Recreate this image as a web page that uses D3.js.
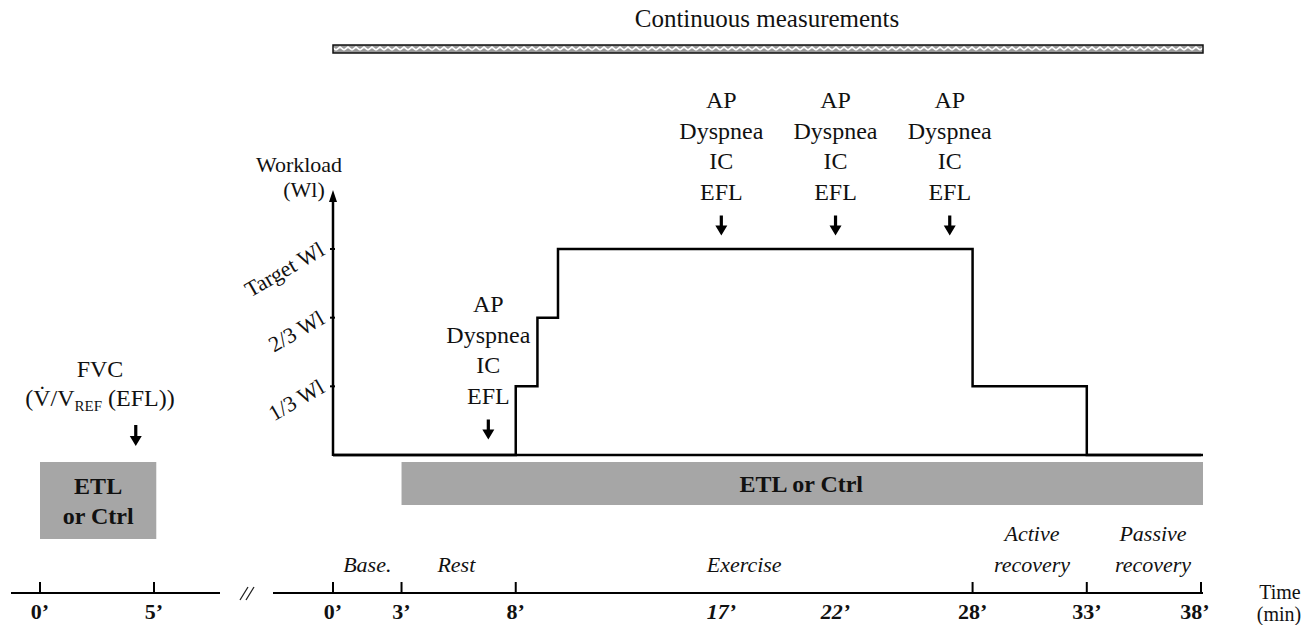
<!DOCTYPE html>
<html><head><meta charset="utf-8">
<script src="https://cdn.jsdelivr.net/npm/d3@7"></script>
<style>html,body{margin:0;padding:0;background:#fff}svg{display:block}</style>
</head><body>
<svg id="c" width="1304" height="625" font-family="'Liberation Serif', Tinos, 'DejaVu Serif', serif"></svg>
<script>
// ---- data ----
const mainTicks = [0, 3, 8, 17, 22, 28, 33, 38];
const mainTickLabels = ["0’", "3’", "8’", "17’", "22’", "28’", "33’", "38’"];
const italicTickLabels = ["17’", "22’"];
const tickMarks = [0, 3, 8, 28, 33, 38];
const preTicks = [0, 5];
const preTickLabels = ["0’", "5’"];
const stepTimes = [0, 8, 8.95, 9.85, 28, 33, 38];
const stepLevels = [0, 1, 2, 3, 1, 0, 0];
const levelTicks = [1, 2, 3];
const levelLabels = ["1/3 Wl", "2/3 Wl", "Target Wl"];
const measureTimes = [6.8, 17, 22, 27];
const measureLabels = ["AP", "Dyspnea", "IC", "EFL"];
const phases = [
  {lines: ["Base."], t: 1.5},
  {lines: ["Rest"], t: 5.4},
  {lines: ["Exercise"], t: 18},
  {lines: ["Active", "recovery"], t: 30.6},
  {lines: ["Passive", "recovery"], t: 35.9}
];
const etlMain = [3, 38];
const etlPre = [0, 5.1];
const fvcTime = 4.2;
const contRange = [0, 38];

// ---- scales ----
const svg = d3.select("#c");
const x = d3.scaleLinear().domain([0, 38]).range([333, 1201]);
const xp = d3.scaleLinear().domain([0, 5]).range([40, 154]);
const y = d3.scaleLinear().domain([0, 3]).range([455, 249]);
const axisY = 593;
const ink = "#111";

const defs = svg.append("defs");
const pat = defs.append("pattern").attr("id", "zz").attr("patternUnits", "userSpaceOnUse")
  .attr("width", 8).attr("height", 7).attr("x", 0).attr("y", 45);
pat.append("rect").attr("width", 8).attr("height", 7).attr("fill", "#9a9a9a");
pat.append("path").attr("d", "M0,5 L4,2 L8,5").attr("stroke", "#fff").attr("stroke-width", 1.6).attr("fill", "none");

function txt(xx, yy, s, size, opts) {
  opts = opts || {};
  return svg.append("text").attr("x", xx).attr("y", yy).attr("text-anchor", opts.anchor || "middle")
    .attr("font-size", size).attr("font-weight", opts.bold ? "bold" : "normal")
    .attr("font-style", opts.italic ? "italic" : "normal").attr("fill", ink).text(s);
}

// continuous measurements
txt(767, 27, "Continuous measurements", 25);
svg.append("rect").attr("x", x(contRange[0])).attr("y", 45).attr("width", x(contRange[1]) - x(contRange[0]) + 2).attr("height", 8)
  .attr("fill", "url(#zz)").attr("stroke", "#111").attr("stroke-width", 1.5);

// grey ETL bars
svg.append("rect").attr("x", x(etlMain[0])).attr("y", 462).attr("width", x(etlMain[1]) - x(etlMain[0]) + 2).attr("height", 43).attr("fill", "#a6a6a6");
txt((x(etlMain[0]) + x(etlMain[1])) / 2, 492, "ETL or Ctrl", 24, {bold: true});
svg.append("rect").attr("x", xp(etlPre[0])).attr("y", 462).attr("width", xp(etlPre[1]) - xp(etlPre[0])).attr("height", 77).attr("fill", "#a6a6a6");
const pc = (xp(etlPre[0]) + xp(etlPre[1])) / 2;
txt(pc, 494, "ETL", 24, {bold: true});
txt(pc, 524, "or Ctrl", 24, {bold: true});

// y axis (workload)
svg.append("line").attr("x1", x(0)).attr("x2", x(0)).attr("y1", y(0) + 1).attr("y2", 200)
  .attr("stroke", "#000").attr("stroke-width", 2.5);
svg.append("path").attr("d", `M${x(0)},190 L${x(0) + 4},202 L${x(0) - 4},202 Z`).attr("fill", "#000");
svg.append("line").attr("x1", x(0)).attr("x2", x(38) + 2).attr("y1", y(0)).attr("y2", y(0)).attr("stroke", "#000").attr("stroke-width", 2.5);
levelTicks.forEach((l, i) => {
  svg.append("line").attr("x1", x(0) - 3).attr("x2", x(0) + 2).attr("y1", y(l)).attr("y2", y(l)).attr("stroke", "#000").attr("stroke-width", 2);
  svg.append("text").attr("transform", `translate(${x(0) - 7},${y(l) + 5}) rotate(-30)`)
    .attr("text-anchor", "end").attr("font-size", 22).attr("fill", ink).text(levelLabels[i]);
});
txt(299, 172, "Workload", 22);
txt(304, 197, "(Wl)", 22);

// workload step line
const line = d3.line().x((d, i) => x(stepTimes[i])).y(d => y(d)).curve(d3.curveStepAfter);
svg.append("path").attr("d", line(stepLevels)).attr("fill", "none").attr("stroke", "#000").attr("stroke-width", 2.5);

// measurement annotations
function downArrow(cx, top, len) {
  svg.append("path").attr("d", `M${cx - 1.6},${top} L${cx + 1.6},${top} L${cx + 1.6},${top + len - 10} L${cx + 6},${top + len - 10} L${cx},${top + len} L${cx - 6},${top + len - 10} L${cx - 1.6},${top + len - 10} Z`).attr("fill", "#000");
}
measureTimes.forEach((t, i) => {
  const base = i === 0 ? 312 : 108;
  measureLabels.forEach((s, j) => txt(x(t), base + j * 30.5, s, 24));
  downArrow(x(t), base + 3 * 30.5 + 16, 20);
});

// FVC
txt(100, 377, "FVC", 24);
const fv = svg.append("text").attr("x", 100).attr("y", 406).attr("text-anchor", "middle").attr("font-size", 24).attr("fill", ink);
fv.append("tspan").text("(V\u0307/V");
fv.append("tspan").attr("font-size", 15).attr("dy", 5).text("REF");
fv.append("tspan").attr("dy", -5).text(" (EFL))");
downArrow(xp(fvcTime), 425, 21);

// time axes
svg.append("line").attr("x1", 11).attr("x2", 220).attr("y1", axisY).attr("y2", axisY).attr("stroke", "#000").attr("stroke-width", 2);
svg.append("line").attr("x1", 273).attr("x2", x(38) + 2).attr("y1", axisY).attr("y2", axisY).attr("stroke", "#000").attr("stroke-width", 2);
svg.append("path").attr("d", "M240,600 L248,587 M246,600 L254,587").attr("stroke", "#222").attr("stroke-width", 1.3).attr("fill", "none");
preTicks.forEach((t, i) => {
  svg.append("line").attr("x1", xp(t)).attr("x2", xp(t)).attr("y1", axisY - 11).attr("y2", axisY).attr("stroke", "#000").attr("stroke-width", 2);
  txt(xp(t), 619, preTickLabels[i], 22, {bold: true});
});
tickMarks.forEach(t => {
  svg.append("line").attr("x1", x(t)).attr("x2", x(t)).attr("y1", axisY - 11).attr("y2", axisY).attr("stroke", "#000").attr("stroke-width", 2);
});
mainTicks.forEach((t, i) => {
  const it = italicTickLabels.includes(mainTickLabels[i]);
  txt(x(t) + (t === 38 ? -6 : 0), 619, mainTickLabels[i], 22, {bold: true, italic: it});
});
phases.forEach(p => {
  p.lines.forEach((s, j) => {
    const yy = p.lines.length === 1 ? 572 : 541 + j * 31;
    txt(x(p.t), yy, s, 22, {italic: true});
  });
});
txt(1280, 599, "Time", 20);
txt(1279, 621, "(min)", 20);
</script>
</body></html>
